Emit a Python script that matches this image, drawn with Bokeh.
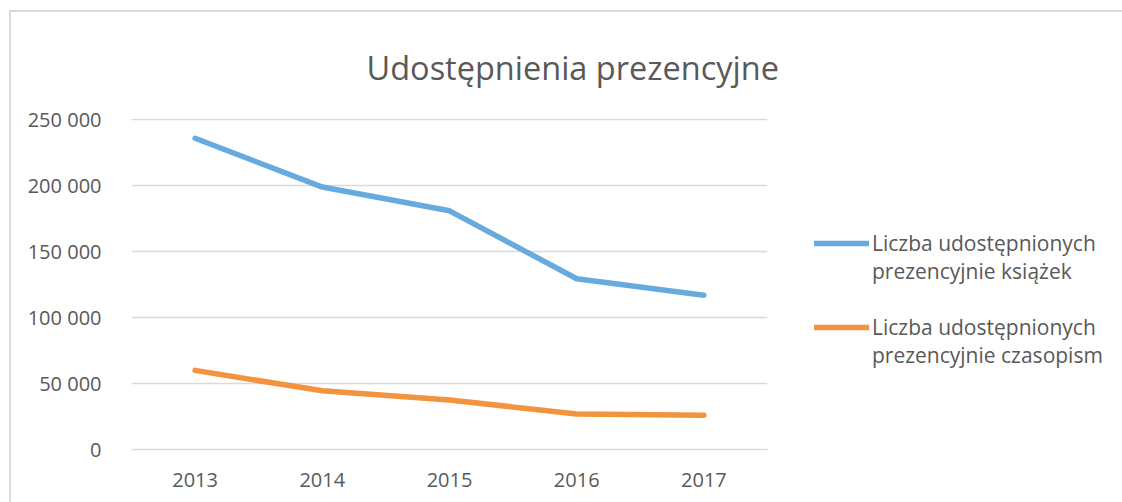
from bokeh.plotting import figure
from bokeh.models import Legend, LegendItem, Title, FactorRange, CustomJSTickFormatter
from bokeh.embed import file_html
from bokeh.resources import INLINE

years = ["2013", "2014", "2015", "2016", "2017"]
ksiazki = [236000, 199000, 181000, 129500, 117000]
czasopisma = [60000, 44500, 37500, 27000, 26000]
title_text = "Udostępnienia prezencyjne"
label_ksiazki = "\nLiczba udostępnionych\nprezencyjnie książek"
label_czasopisma = "\nLiczba udostępnionych\nprezencyjnie czasopism"
y_ticks = [0, 50000, 100000, 150000, 200000, 250000]

FONT = "Open Sans"
GREY = "#595959"
BLUE = "#67AADE"
ORANGE = "#F3923F"

p = figure(x_range=FactorRange(*years), y_range=(0, 251000),
           frame_width=636, frame_height=331,
           min_border_left=120, min_border_right=355, min_border_top=106, min_border_bottom=53,
           output_backend="svg", toolbar_location=None)
p.styles = {"border-left": "2px solid #d9d9d9", "border-top": "2px solid #d9d9d9",
            "margin-top": "10px", "margin-left": "9px"}
p.outline_line_color = None
p.background_fill_color = "white"
p.border_fill_color = "white"

r1 = p.line(years, ksiazki, line_color=BLUE, line_width=5.5, line_cap="round", line_join="round")
r2 = p.line(years, czasopisma, line_color=ORANGE, line_width=5.5, line_cap="round", line_join="round")

p.xgrid.grid_line_color = None
p.ygrid.grid_line_color = "#d9d9d9"
p.ygrid.grid_line_width = 1.3
p.yaxis.ticker = y_ticks
p.yaxis.formatter = CustomJSTickFormatter(code="return tick == 0 ? '0' : (tick/1000).toFixed(0) + ' 000';")
for ax in (p.xaxis[0], p.yaxis[0]):
    ax.axis_line_color = None
    ax.major_tick_line_color = None
    ax.minor_tick_line_color = None
    ax.major_label_text_font = FONT
    ax.major_label_text_font_size = "20px"
    ax.major_label_text_color = GREY
p.yaxis.major_label_standoff = 24
p.xaxis.major_label_standoff = 17
p.xaxis.axis_line_color = "#d9d9d9"
p.xaxis.axis_line_width = 1.3

t = Title(text=title_text, align="left", offset=235, standoff=58,
          text_font=FONT, text_font_size="32.5px", text_color=GREY, text_font_style="normal")
p.add_layout(t, "above")

legend = Legend(items=[LegendItem(label=label_ksiazki, renderers=[r1]),
                       LegendItem(label=label_czasopisma, renderers=[r2])],
                location=(47, 80), orientation="vertical",
                glyph_width=55, glyph_height=30, label_standoff=3, spacing=0,
                padding=0, margin=0, border_line_color=None, background_fill_alpha=0,
                label_text_font=FONT, label_text_font_size="21px", label_text_color=GREY,
                label_text_line_height=1.4)
p.add_layout(legend, "right")

open("out.html", "w").write(file_html(p, INLINE))
